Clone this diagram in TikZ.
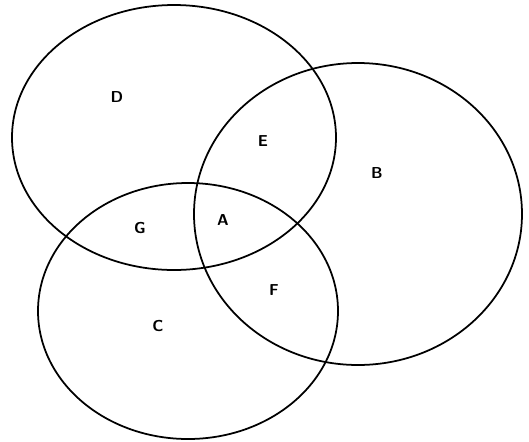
\documentclass[tikz,border=0pt]{standalone}
\usepackage{tikz}
\tikzset{
  setline/.style={draw, line width=1pt},
  region/.style={font=\sffamily\bfseries\small, inner sep=1pt}
}
\begin{document}
\begin{tikzpicture}[x=0.02cm, y=-0.02cm]
\useasboundingbox (0,0) rectangle (529,441);
% the three sets
\draw[setline] (174,137.5) ellipse [x radius=162, y radius=132.5];
\draw[setline] (358,214) ellipse [x radius=164, y radius=151];
\draw[setline] (188,311) ellipse [x radius=150, y radius=128];
% region labels
\node[region] (d) at (117,97) {D};
\node[region] (e) at (263,141) {E};
\node[region] (b) at (377,173) {B};
\node[region] (g) at (140,228) {G};
\node[region] (a) at (223,220) {A};
\node[region] (f) at (274,290) {F};
\node[region] (c) at (158,326) {C};
\end{tikzpicture}
\end{document}
